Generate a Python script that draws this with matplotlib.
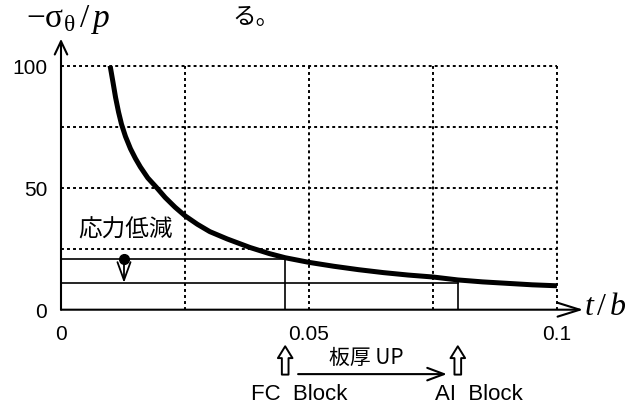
import matplotlib
matplotlib.use("Agg")
import matplotlib.pyplot as plt

# ---- data ----
curve_x = [0.0099, 0.0105, 0.011, 0.0116, 0.0122, 0.013, 0.014, 0.015, 0.016, 0.0175,
           0.0193, 0.021, 0.023, 0.025, 0.0275, 0.03, 0.0335, 0.0381, 0.042, 0.0452,
           0.05, 0.055, 0.06, 0.065, 0.07, 0.075, 0.08, 0.085, 0.09, 0.095, 0.1]
curve_y = [100, 93, 87, 81, 76, 71, 66, 62, 58.5, 54,
           50, 46, 42, 38.5, 35, 32, 29, 25.5, 23, 21.3,
           19.4, 17.8, 16.4, 15.2, 14.2, 13.4, 12.2, 11.4, 10.8, 10.2, 9.8]

grid_x = [0.025, 0.05, 0.075, 0.1]
grid_y = [25, 50, 75, 100]
xtick_vals = [0, 0.05, 0.1]
xtick_labels = ["0", "0.05", "0.1"]
ytick_vals = [0, 50, 100]
ytick_labels = ["0", "50", "100"]

fc_t, fc_s = 0.0452, 20.6     # FC Block thickness / stress
al_t, al_s = 0.080, 11.0      # AI Block thickness / stress
marker_x = 0.0127

plt.rcParams['font.family'] = ['Liberation Sans', 'Noto Sans CJK JP', 'DejaVu Sans']
plt.rcParams['mathtext.fontset'] = 'custom'
plt.rcParams['mathtext.rm'] = 'Liberation Serif'
plt.rcParams['mathtext.it'] = 'Liberation Serif:italic'

fig = plt.figure(figsize=(6.37, 4.10), dpi=100)
W, H = 637, 410
x0, x1 = 61, 557
y0, y1 = 310.7, 66.7
ax = fig.add_axes([x0 / W, (H - y0) / H, (x1 - x0) / W, (y0 - y1) / H])
ax.set_xlim(0, 0.1)
ax.set_ylim(0, 100)
for s in ax.spines.values():
    s.set_visible(False)

# dotted grid
for gx in grid_x:
    ax.plot([gx, gx], [0, 100], color='black', ls=(0, (1.5, 1.6)), lw=1.4, clip_on=False)
for gy in grid_y:
    ax.plot([0, 0.1], [gy, gy], color='black', ls=(0, (1.5, 1.6)), lw=1.4, clip_on=False)

# curve
ax.plot(curve_x, curve_y, color='black', lw=3.6, solid_capstyle='butt', zorder=5)

# reference lines
ax.plot([0, fc_t], [fc_s, fc_s], color='black', lw=1.2)
ax.plot([fc_t, fc_t], [0, fc_s], color='black', lw=1.2)
ax.plot([0, al_t], [al_s, al_s], color='black', lw=1.2)
ax.plot([al_t, al_t], [0, al_s], color='black', lw=1.2)

# axes with arrows
ax.annotate('', xy=(0, 111), xytext=(0, 0), xycoords='data',
            arrowprops=dict(arrowstyle='->,head_length=0.95,head_width=0.45', lw=1.5,
                            color='black', shrinkA=0, shrinkB=0, mutation_scale=10),
            annotation_clip=False)
ax.annotate('', xy=(0.1053, 0), xytext=(0, 0), xycoords='data',
            arrowprops=dict(arrowstyle='->,head_length=1.6,head_width=0.5', lw=1.5,
                            color='black', shrinkA=0, shrinkB=0, mutation_scale=10),
            annotation_clip=False)

# ticks
ax.set_xticks(xtick_vals)
ax.set_xticklabels(xtick_labels, fontsize=15)
ax.set_yticks(ytick_vals)
ax.set_yticklabels(ytick_labels, fontsize=15)
ax.tick_params(length=0)
ax.tick_params(axis='x', pad=10)
ax.tick_params(axis='y', pad=10)

# axis labels
ax.text(-0.0071, 119.5, r'$-\mathrm{\sigma}_{\mathrm{\theta}}\,/\,p$', fontsize=24,
        ha='left', va='center')
ax.text(0.1055, 1.5, r'$t\,/\,b$', fontsize=23, ha='left', va='center')
fig.text(256 / W, 1 - 18 / H, 'る。', fontsize=17, ha='center', va='center',
         family=['Noto Sans CJK JP'])

# stress reduction marker
ax.text(0.0034, 33, '応力低減', fontsize=17, ha='left', va='center',
        family=['Noto Sans CJK JP', 'DejaVu Sans'])
ax.plot([marker_x], [fc_s], 'o', color='black', ms=7, zorder=6)
ax.annotate('', xy=(marker_x, al_s), xytext=(marker_x, fc_s), xycoords='data',
            arrowprops=dict(arrowstyle='->,head_length=1.3,head_width=0.47', lw=1.3,
                            color='black', shrinkA=0, shrinkB=0, mutation_scale=10))

# hollow up arrows below axis
for tx in [fc_t, al_t]:
    ax.annotate('', xy=(tx, -15.0), xytext=(tx, -26.6), xycoords='data',
                arrowprops=dict(arrowstyle='simple,head_length=0.85,head_width=1.05,tail_width=0.48',
                                fc='white', ec='black', lw=1.4, shrinkA=0, shrinkB=0,
                                mutation_scale=10),
                annotation_clip=False)

# thickness-up arrow
ax.annotate('', xy=(0.0778, -26.4), xytext=(0.0478, -26.4), xycoords='data',
            arrowprops=dict(arrowstyle='->,head_length=1.2,head_width=0.45', lw=1.5,
                            color='black', shrinkA=0, shrinkB=0, mutation_scale=10),
            annotation_clip=False)
ax.text(0.0615, -19.5, '板厚 UP', fontsize=15, ha='center', va='center',
        family=['Noto Sans CJK JP', 'DejaVu Sans'])

ax.text(0.0480, -34.5, 'FC  Block', fontsize=16, ha='center', va='center')
ax.text(0.0842, -34.5, 'AI  Block', fontsize=16, ha='center', va='center')

fig.savefig('out.png', dpi=100)
